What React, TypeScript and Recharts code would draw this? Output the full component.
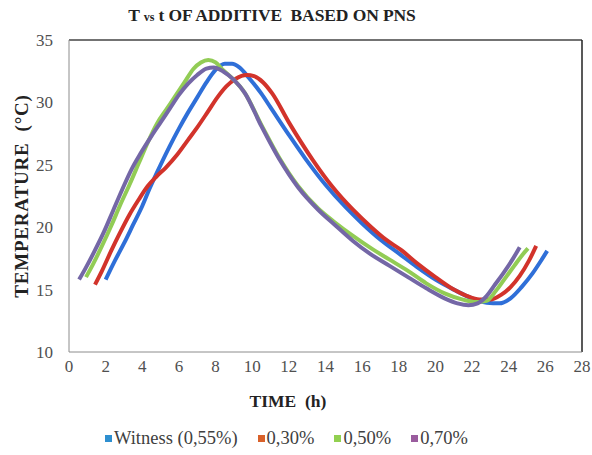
import React from "react";
import { LineChart, Line, XAxis, YAxis, ReferenceLine } from "recharts";

const witness = [
  [2.0, 15.8], [2.5, 17.3], [3.0, 18.7], [3.5, 20.2], [4.0, 21.7], [4.4, 23.1], [5.0, 25.0], [5.5, 26.5],
  [6.0, 27.9], [6.5, 29.2], [7.0, 30.4], [7.5, 31.6], [8.0, 32.6], [8.5, 33.1], [8.9, 33.1], [9.3, 32.8],
  [9.8, 32.0], [10.5, 30.7], [11.0, 29.6], [12.0, 27.4], [12.9, 25.5], [14.0, 23.4], [15.1, 21.6],
  [16.0, 20.3], [17.0, 19.0], [18.0, 17.9], [19.0, 16.8], [20.0, 15.8], [21.0, 15.0], [22.0, 14.3],
  [22.8, 13.95], [23.5, 13.9], [24.1, 14.3], [24.7, 15.2], [25.3, 16.3], [25.8, 17.4], [26.1, 18.1],
];
const p030 = [
  [1.42, 15.4], [1.8, 16.5], [2.3, 18.1], [2.8, 19.6], [3.3, 21.0], [3.8, 22.2], [4.3, 23.3], [4.8, 24.1],
  [5.3, 24.8], [5.9, 25.8], [6.5, 27.0], [7.0, 28.0], [7.6, 29.3], [8.1, 30.4], [8.6, 31.3], [9.1, 31.9],
  [9.7, 32.2], [10.1, 32.1], [10.6, 31.6], [11.1, 30.7], [12.0, 28.4], [13.3, 25.4], [14.4, 23.2],
  [15.5, 21.4], [16.5, 20.0], [17.3, 19.0], [18.1, 18.2], [19.0, 17.1], [20.0, 16.0], [21.0, 15.0],
  [21.7, 14.5], [22.4, 14.2], [23.0, 14.2], [23.6, 14.6], [24.1, 15.2], [24.6, 16.1], [25.1, 17.3], [25.5, 18.5],
];
const p050 = [
  [0.93, 16.0], [1.3, 17.0], [1.8, 18.5], [2.3, 20.1], [2.8, 21.8], [3.3, 23.4], [3.8, 25.1], [4.3, 26.8],
  [4.8, 28.3], [5.3, 29.4], [5.8, 30.5], [6.3, 31.6], [6.8, 32.7], [7.2, 33.2], [7.6, 33.4], [8.0, 33.2],
  [8.4, 32.6], [9.0, 31.8], [9.6, 30.75], [10.5, 28.2], [11.5, 25.5], [12.5, 23.3], [13.6, 21.5],
  [14.5, 20.4], [15.5, 19.3], [16.5, 18.3], [17.5, 17.4], [18.5, 16.5], [19.5, 15.5], [20.5, 14.7],
  [21.5, 14.2], [22.2, 14.0], [22.8, 14.1], [23.3, 14.9], [23.8, 15.9], [24.3, 16.9], [24.7, 17.7], [25.05, 18.3],
];
const p070 = [
  [0.55, 15.8], [0.9, 16.7], [1.4, 18.1], [1.9, 19.6], [2.4, 21.3], [2.9, 23.0], [3.4, 24.6], [3.9, 25.9],
  [4.5, 27.3], [5.0, 28.4], [5.5, 29.5], [6.0, 30.6], [6.5, 31.5], [7.0, 32.2], [7.5, 32.7], [7.9, 32.8],
  [8.4, 32.5], [9.0, 31.8], [9.6, 30.75], [10.5, 28.1], [11.5, 25.4], [12.5, 23.2], [13.6, 21.4],
  [14.5, 20.2], [15.5, 18.9], [16.4, 17.9], [17.5, 16.9], [18.5, 16.0], [19.5, 15.1], [20.5, 14.3],
  [21.2, 13.9], [21.8, 13.75], [22.3, 13.9], [22.8, 14.5], [23.2, 15.3], [23.7, 16.3], [24.2, 17.4], [24.6, 18.4],
];

const xTicks = [0, 2, 4, 6, 8, 10, 12, 14, 16, 18, 20, 22, 24, 26, 28];
const yTicks = [10, 15, 20, 25, 30, 35];

const seriesNames = ["Witness (0,55%)", "0,30%", "0,50%", "0,70%"];
const lineColors = ["#2f6fd8", "#d2332b", "#92cc55", "#7467a6"];
const legendColors = ["#2e8fd0", "#d9612a", "#92d050", "#9a5c9e"];
const seriesData = [witness, p030, p050, p070];

const toRows = (arr: number[][]) => arr.map(([t, T]) => ({ t, T }));

const serif = `"Liberation Serif", "Times New Roman", Tinos, "DejaVu Serif"`;
const tickStyle = { fontFamily: serif, fontSize: 17, fill: "#505050" };

const XTick = (props: any) => {
  const { x, y, payload } = props;
  return (
    <text x={x} y={y} dy={12} textAnchor="middle" style={tickStyle}>
      {payload.value}
    </text>
  );
};
const YTick = (props: any) => {
  const { x, y, payload } = props;
  return (
    <text x={x} y={y} dy={6} textAnchor="end" style={tickStyle}>
      {payload.value}
    </text>
  );
};

export default function App() {
  return (
    <div style={{ position: "absolute", left: 0, top: 0, width: 592, height: 455, background: "#fff", fontFamily: serif }}>
      <LineChart width={592} height={455} margin={{ top: 40, right: 10, bottom: 73, left: 0 }}>
        <XAxis
          type="number"
          dataKey="t"
          domain={[0, 28]}
          ticks={xTicks}
          interval={0}
          allowDuplicatedCategory={false}
          tickLine={false}
          tickSize={0}
          tickMargin={8}
          height={30}
          stroke="#8c8c8c"
          tick={<XTick />}
        />
        <YAxis
          type="number"
          dataKey="T"
          domain={[10, 35]}
          ticks={yTicks}
          interval={0}
          tickLine={false}
          tickSize={0}
          tickMargin={16}
          width={69}
          stroke="#8c8c8c"
          tick={<YTick />}
        />
        <ReferenceLine y={35} stroke="#444" strokeWidth={1.5} />
        <ReferenceLine x={28} stroke="#222" strokeWidth={1.5} />
        {seriesData.map((d, i) => (
          <Line
            key={seriesNames[i]}
            data={toRows(d)}
            dataKey="T"
            name={seriesNames[i]}
            type="monotone"
            stroke={lineColors[i]}
            strokeWidth={4}
            dot={false}
            isAnimationActive={false}
          />
        ))}
      </LineChart>
      <div style={{ position: "absolute", left: 102, top: 4, width: 340, textAlign: "center", fontWeight: "bold", fontSize: 17.5, lineHeight: "22px", color: "#222", whiteSpace: "nowrap", fontFamily: serif, letterSpacing: -0.1 }}>
        T <span style={{ fontSize: 12 }}>vs</span> t OF ADDITIVE&nbsp; BASED ON PNS
      </div>
      <div style={{ position: "absolute", left: 22 - 120, top: 196 - 12, width: 240, height: 24, lineHeight: "24px", textAlign: "center", transform: "rotate(-90deg)", fontWeight: "bold", fontSize: 19, color: "#222", whiteSpace: "nowrap", fontFamily: serif, letterSpacing: 0.8 }}>
        TEMPERATURE&nbsp; (°C)
      </div>
      <div style={{ position: "absolute", left: 238, top: 390, width: 100, height: 22, lineHeight: "22px", textAlign: "center", fontWeight: "bold", fontSize: 17.5, color: "#222", whiteSpace: "nowrap", fontFamily: serif }}>
        TIME&nbsp; (h)
      </div>
      <div style={{ position: "absolute", left: 105, top: 427, height: 22, display: "flex", alignItems: "center", fontSize: 18.5, lineHeight: "22px", color: "#404040", whiteSpace: "nowrap", fontFamily: serif }}>
        {seriesNames.map((n, i) => (
          <div key={n} style={{ display: "flex", alignItems: "center", marginRight: 20 }}>
            <span style={{ display: "inline-block", width: 7, height: 7, background: legendColors[i], marginRight: 2 }} />
            <span>{n}</span>
          </div>
        ))}
      </div>
    </div>
  );
}
